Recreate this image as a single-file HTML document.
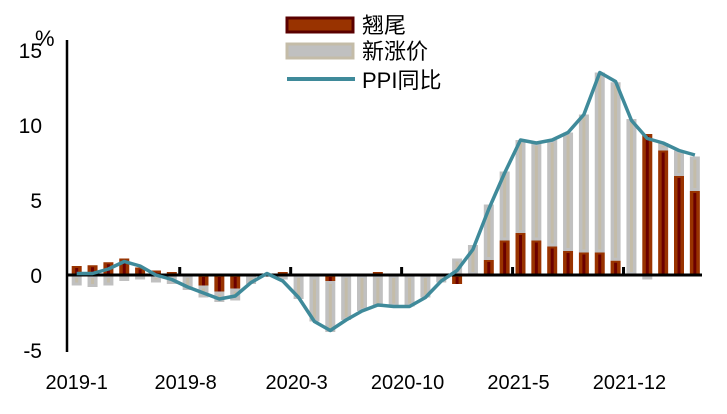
<!DOCTYPE html>
<html><head><meta charset="utf-8"><style>
html,body{margin:0;padding:0;background:#fff;}
svg{display:block;font-family:"Liberation Sans","Noto Sans CJK SC",sans-serif;}
</style></head><body>
<svg id="chart" width="727" height="414"></svg>
<script>
const months=["2019-1","2019-2","2019-3","2019-4","2019-5","2019-6","2019-7","2019-8","2019-9","2019-10","2019-11","2019-12","2020-1","2020-2","2020-3","2020-4","2020-5","2020-6","2020-7","2020-8","2020-9","2020-10","2020-11","2020-12","2021-1","2021-2","2021-3","2021-4","2021-5","2021-6","2021-7","2021-8","2021-9","2021-10","2021-11","2021-12","2022-1","2022-2","2022-3","2022-4"];
const ppi=[0.1,0.1,0.4,0.9,0.6,0.0,-0.3,-0.8,-1.2,-1.6,-1.4,-0.5,0.1,-0.4,-1.5,-3.1,-3.7,-3.0,-2.4,-2.0,-2.1,-2.1,-1.5,-0.4,0.3,1.7,4.4,6.8,9.0,8.8,9.0,9.5,10.7,13.5,12.9,10.3,9.1,8.8,8.3,8.0];
const carry=[0.6,0.65,0.85,1.1,0.5,0.3,0.2,0,-0.7,-1.1,-0.9,0,-0.1,0.2,0,-0.1,-0.4,0,0,0.2,0,0,0,0,-0.6,0,1.0,2.3,2.8,2.3,1.9,1.6,1.5,1.5,0.95,0,9.4,8.3,6.6,5.6];
const newPrice=[-0.7,-0.8,-0.7,-0.4,-0.3,-0.5,-0.6,-1.0,-0.8,-0.7,-0.8,-0.6,0.1,-0.3,-1.6,-3.0,-3.4,-3.0,-2.4,-2.1,-2.1,-2.1,-1.5,-0.5,1.1,2.0,3.7,4.6,6.2,6.5,7.1,7.9,9.2,12.0,11.9,10.4,-0.3,0.5,1.7,2.3];
const yTicks=[15,10,5,0,-5];
const xLabelIdx=[0,7,14,21,28,35];

const svg=document.getElementById('chart');
const NS='http://www.w3.org/2000/svg';
const x0=76.7, step=15.85, yZero=275, unit=15;
const X=i=>x0+i*step;
const Y=v=>yZero-v*unit;
function mk(t,a,p){const e=document.createElementNS(NS,t);for(const k in a)e.setAttribute(k,a[k]);(p||svg).appendChild(e);return e;}

const ya=mk('line',{x1:67,y1:40,x2:67,y2:352,stroke:'#000','stroke-width':2.5});


yTicks.forEach(v=>{
  const t=mk('text',{x:42,y:Y(v)+8,'text-anchor':'end','font-size':21,fill:'#000'});
  t.textContent=String(v);
  
  
});
const pct=mk('text',{x:35,y:46,'font-size':22,fill:'#000'});
pct.textContent='%';



months.forEach((m,i)=>{
  const c=carry[i], n=newPrice[i], w=10, bx=X(i)-w/2;
  let gs=0;
  if((c>0&&n>0)||(c<0&&n<0)) gs=c;
  const g1=Y(gs), g2=Y(gs+n);
  const gy=Math.min(g1,g2), gh=Math.abs(g1-g2);
  if(gh>0){
    const g=mk('rect',{x:bx,y:gy,width:w,height:gh,fill:'#c0c0c0'});
    
    
    mk('rect',{x:X(i)-1.5,y:gy+3,width:3,height:Math.max(0,gh-6),fill:'#c4bca8'});
  }
  const r1=Y(0), r2=Y(c);
  const ry=Math.min(r1,r2), rh=Math.abs(r1-r2);
  if(rh>0){
    const r=mk('rect',{x:bx,y:ry,width:w,height:rh,fill:'#993300'});
    
    
    mk('rect',{x:X(i)-1.5,y:ry+2,width:3,height:Math.max(0,rh-2),fill:'#6b0000'});
  }
});

const xa=mk('line',{x1:66,y1:yZero,x2:702,y2:yZero,stroke:'#000','stroke-width':3});


xLabelIdx.forEach(i=>{
  if(i>0){
    const tk=mk('line',{x1:X(i)-step/2,y1:yZero-8,x2:X(i)-step/2,y2:yZero,stroke:'#000','stroke-width':3});
    
    
  }
  const t=mk('text',{x:X(i)+(i?-2:0),y:389,'text-anchor':'middle','font-size':20,fill:'#000'});
  t.textContent=months[i];
  
  
});

const pts=ppi.map((v,i)=>X(i).toFixed(1)+','+Y(v).toFixed(1)).join(' ');
const pl=mk('polyline',{points:pts,fill:'none',stroke:'#3f8a9a','stroke-width':3.5,'stroke-linejoin':'round'});



const lg=mk('g',{});


const l1=mk('rect',{x:287,y:18,width:66,height:14,fill:'#993300',stroke:'#5a0000','stroke-width':3},lg);


const l2=mk('rect',{x:287,y:44,width:66,height:14,fill:'#c0c0c0',stroke:'#c4bca8','stroke-width':3},lg);


const l3=mk('line',{x1:287,y1:79,x2:355,y2:79,stroke:'#3f8a9a','stroke-width':4},lg);


[['翘尾',33],['新涨价',59],['PPI同比',88]].forEach(([s,y])=>{
  const t=mk('text',{x:362,y:y,'font-size':22,fill:'#000'},lg);
  t.textContent=s;
  
  
});
</script>
</body></html>
